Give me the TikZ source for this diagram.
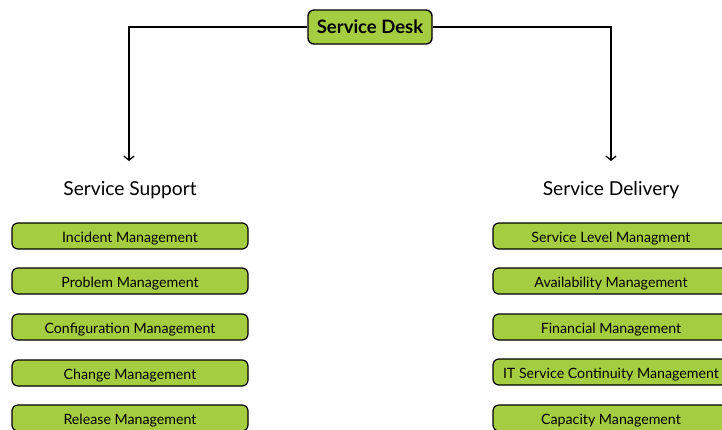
\documentclass[tikz,border=0pt]{standalone}
\usepackage{fontspec}
\usetikzlibrary{arrows.meta}
\setmainfont{Lato}
\definecolor{leaf}{HTML}{A5CD41}
\begin{document}
\begin{tikzpicture}[x=1pt,y=-1pt,
  procbox/.style={draw=black, line width=1.2pt, fill=leaf, rounded corners=6pt,
    minimum width=236pt, minimum height=26pt, inner sep=0pt, text height=12pt, text depth=0pt,
    font=\fontsize{14.2}{16}\selectfont},
  deskbox/.style={draw=black, line width=1.4pt, fill=leaf, rounded corners=6pt,
    minimum width=124pt, minimum height=34pt, inner sep=0pt, text height=12pt, text depth=0pt,
    font=\fontsize{18.5}{20}\selectfont\bfseries},
  heading/.style={font=\fontsize{19.2}{21}\selectfont, inner sep=0pt, anchor=base},
  link/.style={line width=1.3pt, -{Straight Barb[length=4pt,width=10pt]}}]
\useasboundingbox (0,0) rectangle (722,429);
\clip (0,0) rectangle (722,429);
\fill[white] (0,0) rectangle (722,429);

\node[deskbox] (desk) at (370,27) {Service Desk};

\node[heading] (support) at (130,195) {Service Support};
\node[heading] (delivery) at (611,195) {Service Delivery};

\coordinate (supportin) at (129,161);
\coordinate (deliveryin) at (611,161);
\draw[link] (desk.west) -| (supportin);
\draw[link] (desk.east) -| (deliveryin);

% service support processes
\node[procbox] (incident) at (130,236) {Incident Management};
\node[procbox] (problem)  at (130,281) {Problem Management};
\node[procbox] (config)   at (130,327) {Configuration Management};
\node[procbox] (change)   at (130,373) {Change Management};
\node[procbox] (release)  at (130,418) {Release Management};

% service delivery processes
\node[procbox] (level)        at (611,236) {Service Level Managment};
\node[procbox] (availability) at (611,281) {Availability Management};
\node[procbox] (financial)    at (611,327) {Financial Management};
\node[procbox] (continuity)   at (611,372) {IT Service Continuity Management};
\node[procbox] (capacity)     at (611,418) {Capacity Management};
\end{tikzpicture}
\end{document}
